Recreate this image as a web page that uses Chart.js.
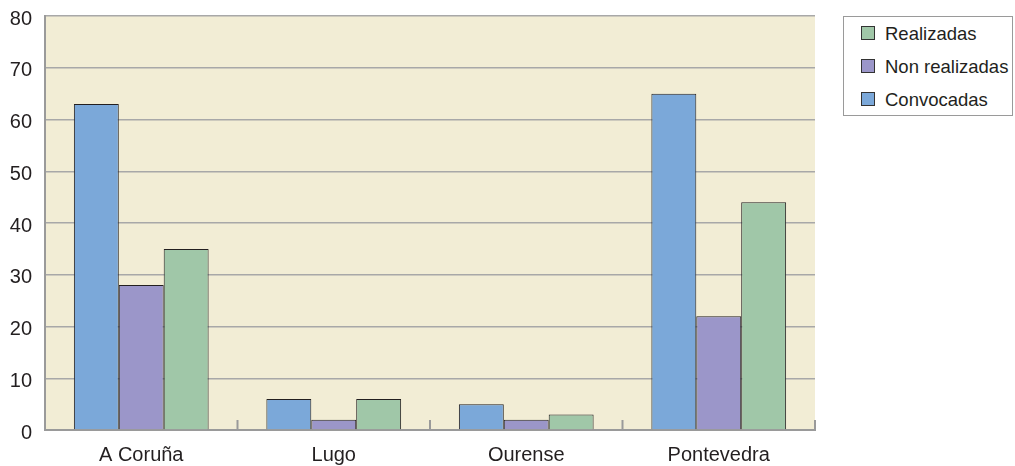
<!DOCTYPE html>
<html>
<head>
<meta charset="utf-8">
<script src="https://cdn.jsdelivr.net/npm/chart.js@4/dist/chart.umd.min.js"></script>
<style>
  html, body { margin: 0; padding: 0; background: #fff; }
  #wrap { position: relative; width: 1015px; height: 466px; }
  #legend {
    position: absolute; left: 843px; top: 16px; width: 168px; height: 98px;
    border: 1px solid #9a9a9a; background: #fff;
    font-family: "Liberation Sans", Arial, sans-serif; font-size: 18.5px; color: #231f20;
  }
  #legend .row { position: absolute; left: 17px; height: 22px; line-height: 22px; white-space: nowrap; }
  #legend .sw { display: inline-block; width: 12px; height: 12px; border: 1px solid #333; vertical-align: 0px; margin-right: 10px; }
</style>
</head>
<body>
<div id="wrap">
  <canvas id="chart" width="1015" height="466"></canvas>
  <div id="legend"></div>
</div>
<script>
// Convocatorias por provincia
const provincias = ['A Coruña', 'Lugo', 'Ourense', 'Pontevedra'];
const convocadas = [63, 6, 5, 65];
const nonRealizadas = [28, 2, 2, 22];
const realizadas = [35, 6, 3, 44];
const yTicks = [0, 10, 20, 30, 40, 50, 60, 70, 80];

const cores = { convocadas: '#7ba8d9', non: '#9b96c9', realizadas: '#a0c7a8' };
const fonte = '"Liberation Sans", Arial, sans-serif';

// fondo da área do gráfico
const fondo = {
  id: 'fondo',
  beforeDraw(chart) {
    const a = chart.chartArea, c = chart.ctx;
    c.save();
    c.fillStyle = '#f2edd5';
    c.fillRect(a.left, a.top, a.right - a.left, a.bottom - a.top);
    c.restore();
  }
};

// marcas curtas entre categorías, sobre o eixo X
const marcas = {
  id: 'marcas',
  afterDatasetsDraw(chart) {
    const x = chart.scales.x, c = chart.ctx, a = chart.chartArea;
    const n = provincias.length;
    const w = (a.right - a.left) / n;
    c.save();
    c.strokeStyle = '#9a9a9a';
    c.lineWidth = 2;
    for (let i = 0; i < n; i++) {
      const px = x.getPixelForValue(i) + w / 2;
      c.beginPath();
      c.moveTo(px, a.bottom - 10);
      c.lineTo(px, a.bottom);
      c.stroke();
    }
    c.restore();
  }
};

const chart = new Chart(document.getElementById('chart'), {
  type: 'bar',
  data: {
    labels: provincias,
    datasets: [
      { label: 'Convocadas', data: convocadas, backgroundColor: cores.convocadas },
      { label: 'Non realizadas', data: nonRealizadas, backgroundColor: cores.non },
      { label: 'Realizadas', data: realizadas, backgroundColor: cores.realizadas }
    ]
  },
  options: {
    responsive: false,
    animation: false,
    layout: { padding: { left: 0, right: 200, top: 16, bottom: 0 } },
    datasets: {
      bar: {
        borderColor: '#231f20',
        borderWidth: 1,
        barPercentage: 1,
        categoryPercentage: 0.70
      }
    },
    plugins: {
      legend: { display: false },
      tooltip: { enabled: false }
    },
    scales: {
      x: {
        grid: { display: false, drawTicks: false },
        border: { color: '#9a9a9a', width: 2 },
        ticks: {
          color: '#231f20',
          padding: 13,
          font: { family: fonte, size: 20 }
        },
        afterFit(s) {
          s.height = 36;
          s.paddingLeft = 0;
          s.paddingRight = 0;
        }
      },
      y: {
        min: 0,
        max: 80,
        afterBuildTicks(s) { s.ticks = yTicks.map(v => ({ value: v })); },
        grid: { color: '#a8a8a8', lineWidth: 1.5, drawTicks: false },
        border: { color: '#9a9a9a', width: 2 },
        ticks: {
          color: '#231f20',
          padding: 13,
          labelOffset: 3,
          font: { family: fonte, size: 20 }
        },
        afterFit(s) {
          s.width = 45;
          // sen marxe extra arriba/abaixo polas etiquetas
          s.paddingTop = 0;
          s.paddingBottom = 0;
        }
      }
    }
  },
  plugins: [fondo, marcas]
});

// lenda en orde inversa, como na fonte
const lenda = document.getElementById('legend');
chart.data.datasets.slice().reverse().forEach((ds, i) => {
  const row = document.createElement('div');
  row.className = 'row';
  row.style.top = (6 + i * 33) + 'px';
  row.innerHTML = '<span class="sw" style="background:' + ds.backgroundColor + '"></span>' + ds.label;
  lenda.appendChild(row);
});
</script>
</body>
</html>
